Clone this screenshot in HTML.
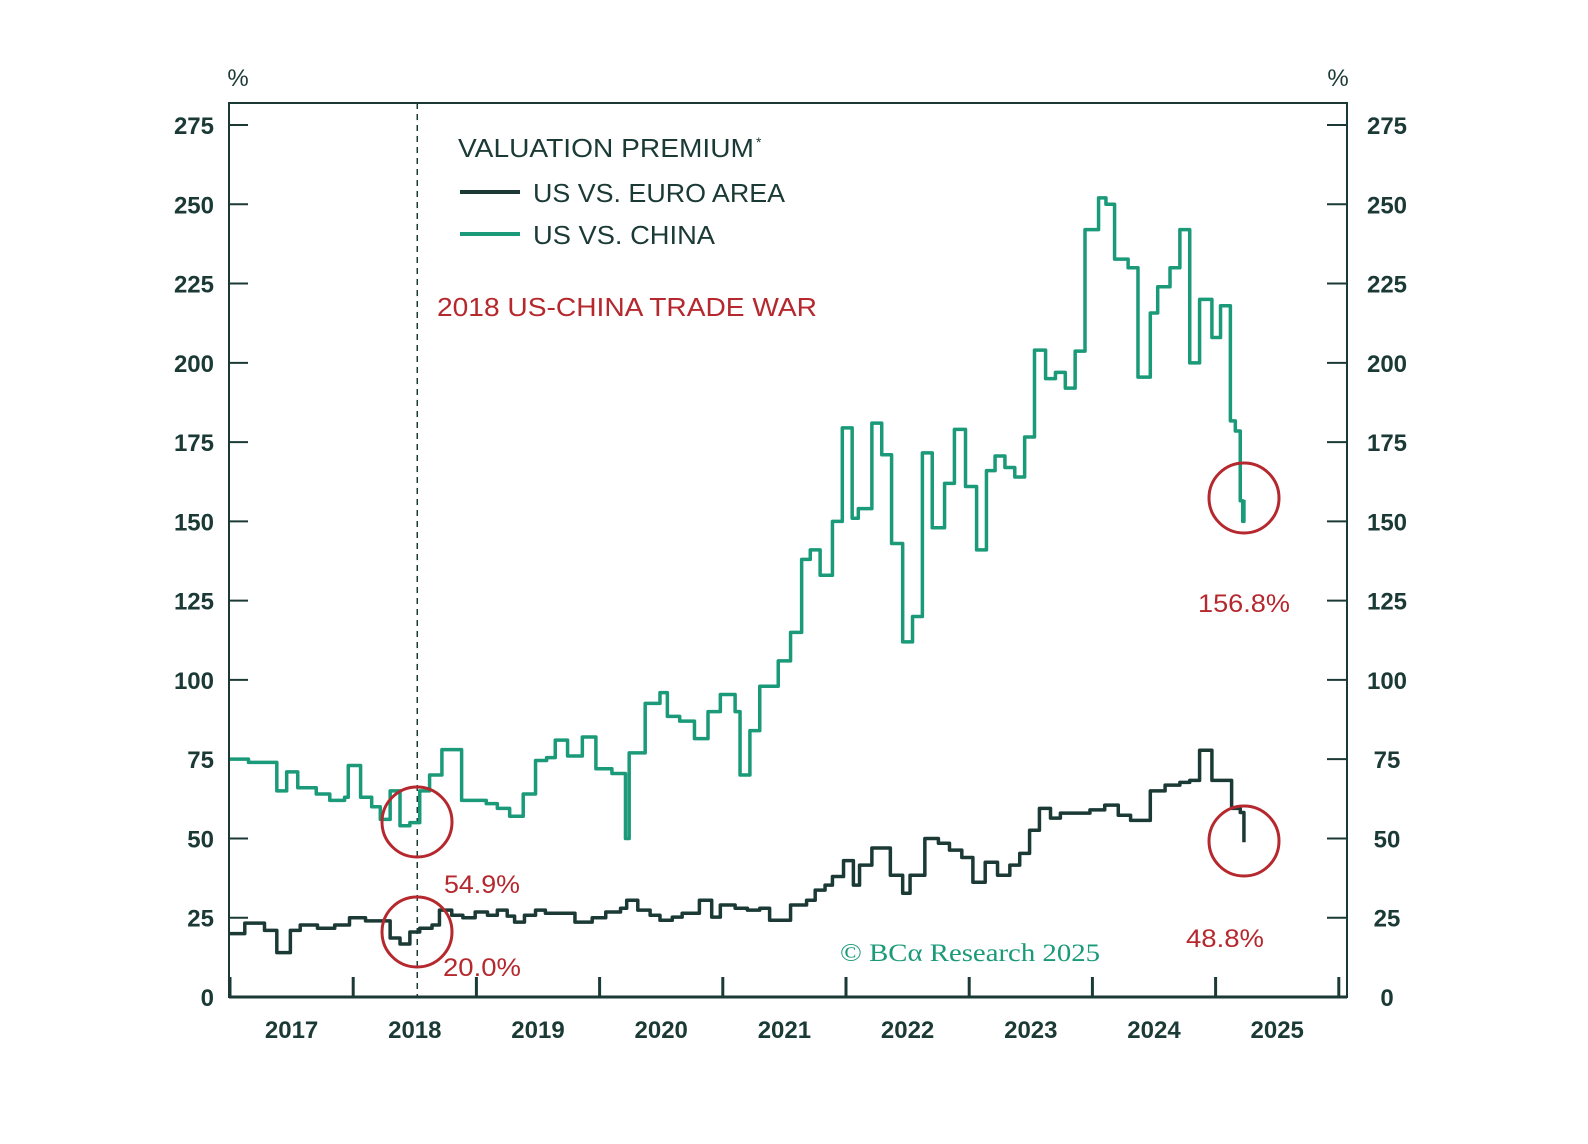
<!DOCTYPE html>
<html><head><meta charset="utf-8"><style>
html,body{margin:0;padding:0;background:#fff;}
svg{display:block;font-family:"Liberation Sans",sans-serif;}
</style></head><body>
<svg id="chart" width="1588" height="1144" viewBox="0 0 1588 1144" xmlns="http://www.w3.org/2000/svg">
<g id="axes"></g>
<g id="series"></g>
<g id="annot">
  <text x="458" y="157" font-size="26" fill="#1b3a36" textLength="296" lengthAdjust="spacingAndGlyphs">VALUATION PREMIUM</text>
  <text x="756" y="147" font-size="14" fill="#1b3a36">*</text>
  <line x1="460" y1="192" x2="520" y2="192" stroke="#1b3a36" stroke-width="4"/>
  <text x="533" y="202" font-size="26" fill="#1b3a36" textLength="252" lengthAdjust="spacingAndGlyphs">US VS. EURO AREA</text>
  <line x1="460" y1="234" x2="520" y2="234" stroke="#1a9a78" stroke-width="4"/>
  <text x="533" y="244" font-size="26" fill="#1b3a36" textLength="182" lengthAdjust="spacingAndGlyphs">US VS. CHINA</text>
  <text x="437" y="316" font-size="26" fill="#b5282e" textLength="380" lengthAdjust="spacingAndGlyphs">2018 US-CHINA TRADE WAR</text>
  <circle cx="417" cy="822" r="35" fill="none" stroke="#b5282e" stroke-width="3"/>
  <circle cx="417" cy="932" r="35" fill="none" stroke="#b5282e" stroke-width="3"/>
  <circle cx="1244" cy="498" r="35" fill="none" stroke="#b5282e" stroke-width="3"/>
  <circle cx="1244" cy="841" r="35" fill="none" stroke="#b5282e" stroke-width="3"/>
  <text x="444" y="893" font-size="25" fill="#b5282e" textLength="76" lengthAdjust="spacingAndGlyphs">54.9%</text>
  <text x="443" y="976" font-size="25" fill="#b5282e" textLength="78" lengthAdjust="spacingAndGlyphs">20.0%</text>
  <text x="1198" y="612" font-size="25" fill="#b5282e" textLength="92" lengthAdjust="spacingAndGlyphs">156.8%</text>
  <text x="1186" y="947" font-size="25" fill="#b5282e" textLength="78" lengthAdjust="spacingAndGlyphs">48.8%</text>
  <text x="840" y="961" font-size="25" fill="#1a9a78" font-family="Liberation Serif, serif" textLength="260" lengthAdjust="spacingAndGlyphs">© BCα Research 2025</text>
</g>
</svg>
<script>
const yTicks = [0,25,50,75,100,125,150,175,200,225,250,275];
const xYears = [2017,2018,2019,2020,2021,2022,2023,2024,2025];
const chinaDates = [0,.15,.31,.38,.46,.55,.70,.81,.93,.96,1.06,1.15,1.22,1.30,1.38,1.46,1.54,1.62,1.72,1.88,2.08,2.17,2.27,2.38,2.48,2.57,2.64,2.74,2.86,2.97,3.10,3.21,3.24,3.37,3.49,3.55,3.65,3.77,3.88,3.98,4.10,4.14,4.22,4.30,4.45,4.55,4.64,4.71,4.79,4.89,4.97,5.05,5.10,5.21,5.29,5.37,5.46,5.54,5.62,5.70,5.80,5.88,5.97,6.06,6.14,6.21,6.29,6.37,6.45,6.53,6.62,6.70,6.78,6.86,6.94,7.05,7.11,7.18,7.29,7.37,7.47,7.53,7.63,7.71,7.79,7.87,7.97,8.04,8.12,8.16,8.20,8.22,8.23];
const chinaValues = [75,74,74,65,71,66,64,62,63,73,63,60,56,65,54,55,65,70,78,62,61,59.5,57,64,74.6,75.5,81,76,82,72,70.5,50,77,92.6,96,88.5,87,81.5,90,95.4,90,70,84,98,106,115,138,141,133,150,179.5,151,154,181,171,143,112,120,171.6,148,162,179,161,141,166,170.6,167,164,176.6,204,195,197,192,203.7,242,252,250,232.7,230,195.5,215.7,224,230,242,200,220,208,218,181.7,178.5,156.5,150,156.8];
const euroDates = [0,.12,.28,.38,.49,.57,.71,.85,.97,1.10,1.22,1.30,1.38,1.46,1.54,1.64,1.70,1.80,1.89,1.99,2.09,2.17,2.25,2.31,2.39,2.48,2.56,2.80,2.94,3.05,3.17,3.22,3.31,3.41,3.49,3.59,3.67,3.81,3.91,3.98,4.10,4.20,4.30,4.38,4.55,4.68,4.75,4.83,4.89,4.98,5.06,5.11,5.21,5.36,5.46,5.52,5.64,5.75,5.84,5.94,6.03,6.13,6.23,6.33,6.41,6.49,6.57,6.66,6.74,6.98,7.10,7.21,7.31,7.47,7.59,7.71,7.79,7.87,7.97,8.13,8.20,8.23];
const euroValues = [20,23.3,21,14,21,22.7,21.7,22.7,25,24,24,18.6,16.7,20.5,21.7,22.7,27.4,25.8,25,26.8,25.8,27.4,25.5,23.6,25.8,27.4,26.4,23.6,25,26.8,28,30.5,27.4,25.8,24.2,25.2,26.4,30.5,25.2,29,28,27.4,28,24.2,29,30.5,33.7,35.3,38,43,35.3,41.6,47,38.4,32.7,38.4,50,48.5,46.3,44,36.2,42.5,38.4,41.6,45.3,52.6,59.5,56.4,58,59,60.5,57.3,55.7,65,66.8,67.7,68.3,77.8,68.3,59.5,58.2,48.8];

const L=229,R=1347,T=103,B=997;
const yS = v => B - v*(B-125)/275;
const xS = t => 230 + t*123.2;
const NS='http://www.w3.org/2000/svg';
function mk(tag, attrs, parent){const e=document.createElementNS(NS,tag);for(const k in attrs)e.setAttribute(k,attrs[k]);parent.appendChild(e);return e;}
const ax=document.getElementById('axes'), se=document.getElementById('series');
const dark='#1b3a36';
let f=mk('rect',{x:L,y:T,width:R-L,height:B-T,fill:'none',stroke:dark,'stroke-width':2},ax);


let bl=mk('line',{x1:L,y1:B,x2:R,y2:B,stroke:dark,'stroke-width':3},ax);


yTicks.forEach(v=>{
  const y=yS(v);
  let t1=mk('line',{x1:L,y1:y,x2:L+19,y2:y,stroke:dark,'stroke-width':2},ax);
  
  
  let t2=mk('line',{x1:R-20,y1:y,x2:R,y2:y,stroke:dark,'stroke-width':2},ax);
  
  
  let a=mk('text',{x:214,y:y+9,'text-anchor':'end','font-size':24,fill:dark,'font-weight':'bold'},ax);a.textContent=v;
  
  
  let b=mk('text',{x:1387,y:y+9,'text-anchor':'middle','font-size':24,fill:dark,'font-weight':'bold'},ax);b.textContent=v;
  
  
});
['238','1338'].forEach((x,i)=>{let p=mk('text',{x:x,y:86,'text-anchor':'middle','font-size':24,fill:dark},ax);p.textContent='%';
  
  });
xYears.concat([2026]).forEach(yr=>{
  const x=xS(yr-2017);
  let t=mk('line',{x1:x,y1:B,x2:x,y2:B-20,stroke:dark,'stroke-width':3},ax);
  
  
});
xYears.forEach(yr=>{
  let l=mk('text',{x:xS(yr-2017+0.5),y:1038,'text-anchor':'middle','font-size':24,fill:dark,'font-weight':'bold'},ax);l.textContent=yr;
  
  
});
let dl=mk('line',{x1:xS(1.52),y1:T,x2:xS(1.52),y2:B,stroke:dark,'stroke-width':1.5,'stroke-dasharray':'6,5'},ax);


function stepPath(d,v){let s='M'+xS(d[0])+','+yS(v[0]);for(let i=1;i<d.length;i++){s+=' H'+xS(d[i])+' V'+yS(v[i]);}return s;}
let pc=mk('path',{d:stepPath(chinaDates,chinaValues),fill:'none',stroke:'#1a9a78','stroke-width':3.5,'stroke-linejoin':'round'},se);


let pe=mk('path',{d:stepPath(euroDates,euroValues),fill:'none',stroke:dark,'stroke-width':3.5,'stroke-linejoin':'round'},se);


</script>
</body></html>
